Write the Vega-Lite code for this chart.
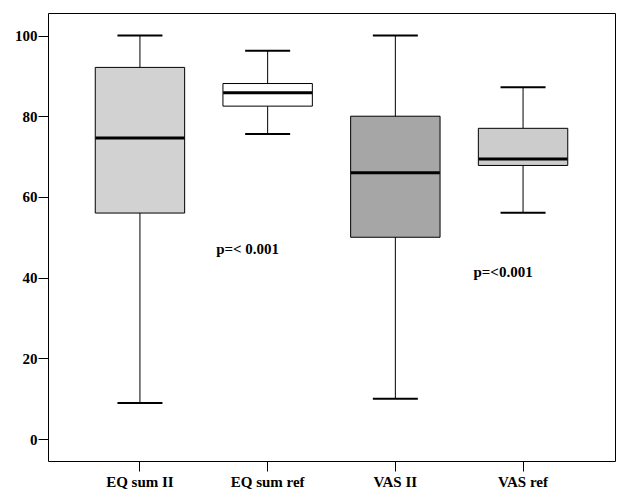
{
  "$schema": "https://vega.github.io/schema/vega-lite/v6.json",
  "autosize": {"type": "none"},
  "padding": {"left": 48, "top": 13, "right": 14, "bottom": 43},
  "width": 567,
  "height": 448,
  "background": "white",
  "config": {
    "view": {"stroke": "black", "strokeWidth": 1},
    "font": "Liberation Serif",
    "axis": {
      "labelFont": "Liberation Serif",
      "labelFontWeight": "bold",
      "labelFontSize": 15,
      "labelColor": "black",
      "tickColor": "black",
      "tickSize": 10,
      "domain": false,
      "grid": false,
      "title": null
    }
  },
  "datasets": {
    "boxes": [
      {"group": "EQ sum II", "min": 8.9, "q1": 56, "median": 74.6, "q3": 92.1, "max": 100},
      {"group": "EQ sum ref", "min": 75.6, "q1": 82.5, "median": 85.8, "q3": 88.1, "max": 96.2},
      {"group": "VAS II", "min": 10, "q1": 50, "median": 66, "q3": 80, "max": 100},
      {"group": "VAS ref", "min": 56.1, "q1": 67.8, "median": 69.4, "q3": 77, "max": 87.2}
    ],
    "notes": [
      {"group": "EQ sum ref", "y": 47.1, "label": "p=< 0.001"},
      {"group": "VAS ref", "y": 41.4, "label": "p=<0.001"}
    ]
  },
  "data": {"name": "boxes"},
  "encoding": {
    "x": {
      "field": "group",
      "type": "nominal",
      "sort": ["EQ sum II", "EQ sum ref", "VAS II", "VAS ref"],
      "scale": {"paddingInner": 0.3, "paddingOuter": 0.37},
      "axis": {"labelAngle": 0, "labelPadding": 3}
    }
  },
  "layer": [
    {
      "mark": {"type": "rule", "color": "black", "strokeWidth": 1},
      "encoding": {
        "y": {"field": "min", "type": "quantitative", "scale": {"domain": [-5.45, 105.58], "nice": false, "zero": false},
          "axis": {"values": [0, 20, 40, 60, 80, 100], "labelPadding": 1}},
        "y2": {"field": "max"}
      }
    },
    {
      "mark": {"type": "bar", "stroke": "black", "strokeWidth": 1},
      "encoding": {
        "y": {"field": "q1", "type": "quantitative"},
        "y2": {"field": "q3"},
        "fill": {
          "field": "group",
          "type": "nominal",
          "scale": {"domain": ["EQ sum II", "EQ sum ref", "VAS II", "VAS ref"], "range": ["#d2d2d2", "#ffffff", "#a6a6a6", "#cccccc"]},
          "legend": null
        }
      }
    },
    {
      "mark": {"type": "tick", "color": "black", "size": 89, "thickness": 3, "opacity": 1},
      "encoding": {"y": {"field": "median", "type": "quantitative"}}
    },
    {
      "mark": {"type": "tick", "color": "black", "size": 45, "thickness": 2, "opacity": 1},
      "encoding": {"y": {"field": "max", "type": "quantitative"}}
    },
    {
      "mark": {"type": "tick", "color": "black", "size": 45, "thickness": 2, "opacity": 1},
      "encoding": {"y": {"field": "min", "type": "quantitative"}}
    },
    {
      "data": {"name": "notes"},
      "mark": {"type": "text", "font": "Liberation Serif", "fontWeight": "bold", "fontSize": 15, "color": "black", "baseline": "middle", "dx": -20},
      "encoding": {
        "x": {"field": "group", "type": "nominal", "sort": ["EQ sum II", "EQ sum ref", "VAS II", "VAS ref"]},
        "y": {"field": "y", "type": "quantitative"},
        "text": {"field": "label"}
      }
    }
  ]
}
